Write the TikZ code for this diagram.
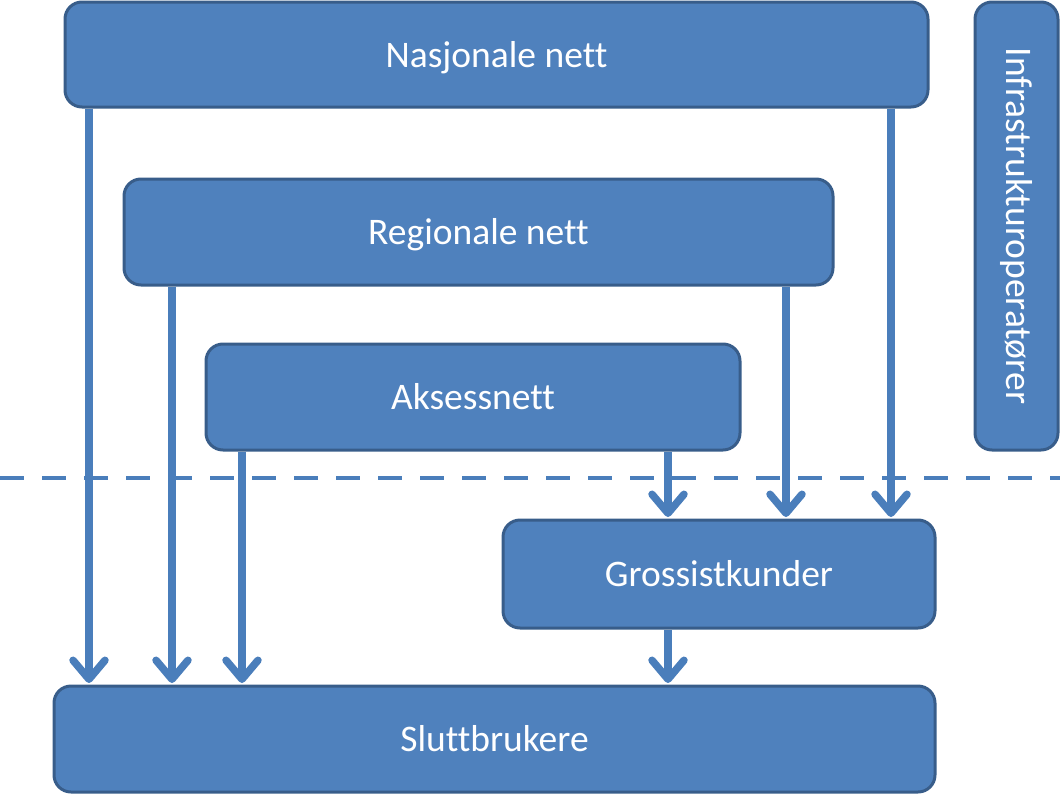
\documentclass[tikz,border=0pt]{standalone}
\usepackage{fontspec}
\setmainfont{Carlito}[Ligatures=NoCommon]
\usetikzlibrary{arrows.meta}
\definecolor{boxfill}{HTML}{4F81BD}
\definecolor{boxline}{HTML}{385D8A}
\definecolor{arrcol}{HTML}{4A7EBB}
\newcommand{\boxtxt}[1]{\raisebox{-12.5pt}[0pt][0pt]{#1}}
\begin{document}
\begin{tikzpicture}[x=1pt,y=-1pt,
  box/.style={draw=boxline, line width=3pt, fill=boxfill, rounded corners=17pt,
    inner sep=0pt, text=white, font=\fontsize{37.5}{42}\selectfont},
  arr/.style={draw=arrcol, line width=7.5pt,
    -{Straight Barb[length=19pt,width=32pt,round]}},
  sep/.style={draw=arrcol, line width=4pt, dash pattern=on 24pt off 18pt}]
\useasboundingbox (0,0) rectangle (1060,795);
\node[box, minimum width=863pt, minimum height=105pt] (nas) at (496.5,54.5) {\boxtxt{Nasjonale nett}};
\node[box, minimum width=709pt, minimum height=106pt] (reg) at (478.5,232) {\boxtxt{Regionale nett}};
\node[box, minimum width=534pt, minimum height=106pt] (aks) at (473,397) {\boxtxt{Aksessnett}};
\node[box, minimum width=83pt, minimum height=448pt] (inf) at (1016.5,226) {\rotatebox{-90}{Infrastrukturoperatører}};
\node[box, minimum width=432pt, minimum height=108pt] (gro) at (719,574) {\boxtxt{Grossistkunder}};
\node[box, minimum width=881pt, minimum height=106pt] (slu) at (494.5,739) {\boxtxt{Sluttbrukere}};
\coordinate (dl) at (0,478);
\coordinate (dr) at (1060,478);
\draw[sep] (dl) -- (dr);
\draw[arr] (nas.south -| 89,0) -- ([yshift=1.5pt]slu.north -| 89,0);
\draw[arr] (reg.south -| 172,0) -- ([yshift=1.5pt]slu.north -| 172,0);
\draw[arr] (aks.south -| 242,0) -- ([yshift=1.5pt]slu.north -| 242,0);
\draw[arr] (nas.south -| 891,0) -- ([yshift=1.5pt]gro.north -| 891,0);
\draw[arr] (reg.south -| 786,0) -- ([yshift=1.5pt]gro.north -| 786,0);
\draw[arr] (aks.south -| 668,0) -- ([yshift=1.5pt]gro.north -| 668,0);
\draw[arr] (gro.south -| 668,0) -- ([yshift=1.5pt]slu.north -| 668,0);
\end{tikzpicture}
\end{document}
